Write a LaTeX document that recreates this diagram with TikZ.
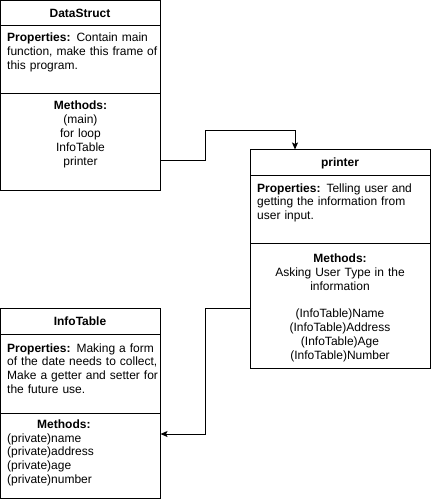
\documentclass[tikz,border=0pt]{standalone}
\usepackage{fontspec}
\setmainfont{Liberation Sans}
\usetikzlibrary{arrows.meta}
\tikzset{
  box/.style={draw=black, line width=1pt, rectangle, inner sep=0pt, outer sep=0pt, anchor=north west},
  divline/.style={draw=black, line width=1pt},
  conn/.style={draw=black, line width=1pt, -{Stealth[length=7pt,width=6pt,inset=1.5pt]}},
  ttl/.style={font=\fontsize{12}{13.8}\selectfont\bfseries, inner sep=0pt, anchor=base},
  txtl/.style={font=\fontsize{12}{13.8}\selectfont, inner sep=0pt, anchor=base west, text width=170pt, align=left},
  txtc/.style={font=\fontsize{12}{13.8}\selectfont, inner sep=0pt, anchor=base, text width=175pt, align=center}
}
\begin{document}
\begin{tikzpicture}[x=1pt,y=-1pt]
\useasboundingbox (0,0) rectangle (432,500);

% DataStruct
\node[box, minimum width=160pt, minimum height=189.5pt] (ds) at (0.5,0.5) {};
\draw[divline] (ds.west |- 0,26) -- (ds.east |- 0,26);
\draw[divline] (ds.west |- 0,94) -- (ds.east |- 0,94);
\node[ttl] (dsT) at (80,17.5) {DataStruct};
\node[txtl] (dsP) at (7,42) {\textbf{Properties:} Contain main\\function, make this frame of\\this program.};
\node[txtc] (dsM) at (80.5,110) {\textbf{Methods:}\\(main)\\for loop\\InfoTable\\printer};

% printer
\node[box, minimum width=179.5pt, minimum height=218.5pt] (pr) at (250.5,149.5) {};
\draw[divline] (pr.west |- 0,175) -- (pr.east |- 0,175);
\draw[divline] (pr.west |- 0,243.5) -- (pr.east |- 0,243.5);
\node[ttl] (prT) at (340,166.5) {printer};
\node[txtl] (prP) at (257,192) {\textbf{Properties:} Telling user and\\getting the information from\\user input.};
\node[txtc] (prM) at (340,262.5) {\textbf{Methods:}\\Asking User Type in the\\information\\[13.8pt](InfoTable)Name\\(InfoTable)Address\\(InfoTable)Age\\(InfoTable)Number};

% InfoTable
\node[box, minimum width=160pt, minimum height=190pt] (it) at (0.5,308) {};
\draw[divline] (it.west |- 0,334) -- (it.east |- 0,334);
\draw[divline] (it.west |- 0,413) -- (it.east |- 0,413);
\node[ttl] (itT) at (80,325) {InfoTable};
\node[txtl] (itP) at (7,352) {\textbf{Properties:} Making a form\\of the date needs to collect,\\Make a getter and setter for\\the future use.};
\node[txtl, anchor=base west] (itMh) at (37,428.3) {\textbf{Methods:}};
\node[txtl] (itM) at (7,442) {(private)name\\(private)address\\(private)age\\(private)number};

% connectors
\coordinate (c1s) at (ds.east |- 0,160);
\coordinate (c1e) at (295,0 |- pr.north);
\draw[conn] (c1s) -- (205,160) -- (205,130) -| (c1e);
\coordinate (c2s) at (pr.west |- 0,308);
\coordinate (c2e) at (it.east |- 0,434);
\draw[conn] (c2s) -- (205,308) |- (c2e);
\end{tikzpicture}
\end{document}
